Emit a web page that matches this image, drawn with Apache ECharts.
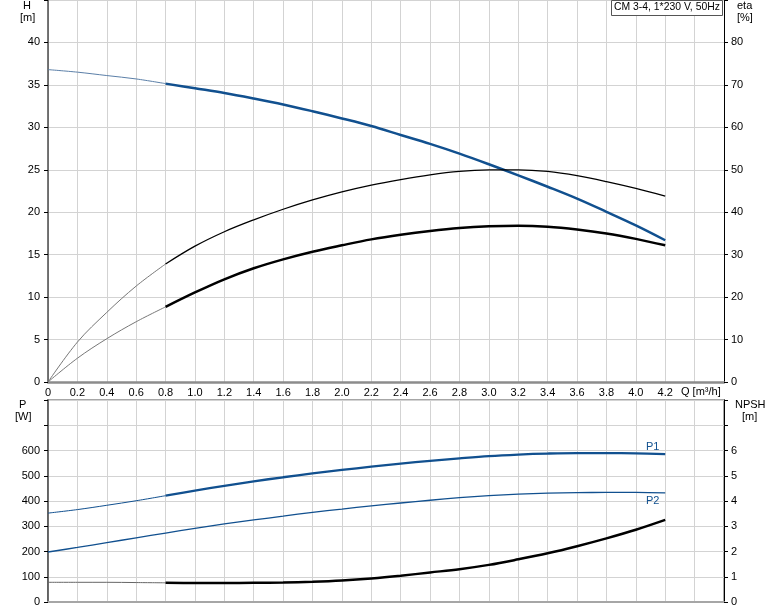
<!DOCTYPE html>
<html>
<head>
<meta charset="utf-8">
<script src="https://cdn.jsdelivr.net/npm/echarts@6/dist/echarts.min.js"></script>
<style>
html,body{margin:0;padding:0;background:#fff;}
#chart{width:774px;height:611px;}
</style>
</head>
<body>
<div id="chart"></div>
<script>
// ---- data ----
var qValues = [0,0.2,0.4,0.6,0.8,1.0,1.2,1.4,1.6,1.8,2.0,2.2,2.4,2.6,2.8,3.0,3.2,3.4,3.6,3.8,4.0,4.2];
var headH = [36.8,36.5,36.1,35.7,35.15,34.6,34.05,33.4,32.7,31.9,31.05,30.15,29.1,28.05,26.9,25.65,24.35,23.0,21.6,20.05,18.45,16.7];
var etaUpper = [0,9.4,16.4,22.6,27.8,32.0,35.4,38.2,40.7,42.9,44.8,46.4,47.7,48.8,49.6,49.96,50.0,49.6,48.6,47.2,45.6,43.8];
var etaLower = [0,5.6,10.2,14.2,17.7,21.1,24.2,26.8,28.9,30.7,32.2,33.6,34.7,35.6,36.3,36.7,36.84,36.6,35.94,35.0,33.72,32.2];
var powerP1 = [352,366,383,401,421,441,460,478,494,509,523,536,548,559,569,578,584,588,590,590,589,586];
var powerP2 = [198,216,235,254,273,292,309,325,340,355,368,381,392,403,413,421,427,431,433,434,434,432];
var npsh = [0.78,0.78,0.78,0.77,0.76,0.75,0.75,0.76,0.77,0.80,0.85,0.93,1.04,1.17,1.30,1.47,1.69,1.93,2.21,2.52,2.86,3.25];
var qTickLabels = ['0','0.2','0.4','0.6','0.8','1.0','1.2','1.4','1.6','1.8','2.0','2.2','2.4','2.6','2.8','3.0','3.2','3.4','3.6','3.8','4.0','4.2'];
var hTickLabels = ['0','5','10','15','20','25','30','35','40'];
var etaTickLabels = ['0','10','20','30','40','50','60','70','80'];
var pTickLabels = ['0','100','200','300','400','500','600'];
var npshTickLabels = ['0','1','2','3','4','5','6'];
var titleText = 'CM 3-4, 1*230 V, 50Hz';
var splitIndex = 4; // Q = 0.8, start of the bold (operating) range

function pairs(vals, from, to) {
  var out = [];
  for (var i = from; i <= to; i++) out.push([qValues[i], vals[i]]);
  return out;
}
var last = qValues.length - 1;
var BLUE = '#11508f';
var FONT = 'Liberation Sans, Arial, sans-serif';

function lineSeries(vals, xi, yi, from, to, color, width, opacity) {
  return {
    type: 'line', xAxisIndex: xi, yAxisIndex: yi,
    data: pairs(vals, from, to), smooth: 0.35, symbol: 'none',
    lineStyle: {color: color, width: width, opacity: opacity == null ? 1 : opacity},
    silent: true, z: 5
  };
}

function labelFrom(list, dec) {
  return function (v) {
    var s = (dec && Math.abs(v) > 1e-9) ? v.toFixed(dec) : String(Math.round(v));
    return list.indexOf(s) >= 0 ? s : '';
  };
}

var chart = echarts.init(document.getElementById('chart'), null, {renderer: 'canvas'});
var axisLabelBase = {color: '#000', fontSize: 11, fontFamily: FONT};
var splitLineStyle = {show: true, lineStyle: {color: '#d3d3d3', width: 1}};

chart.setOption({
  animation: false,
  backgroundColor: '#fff',
  grid: [
    {left: 48, top: 0, width: 676, height: 382, show: false},
    {left: 48, top: 400, width: 676, height: 202, show: true, borderColor: '#a6a6a6', borderWidth: 2, backgroundColor: 'transparent'}
  ],
  xAxis: [
    {type: 'value', gridIndex: 0, min: 0, max: 4.6, interval: 0.2,
     axisLine: {show: true, onZero: false, lineStyle: {color: '#8c8c8c', width: 2.5}},
     axisTick: {show: false},
     axisLabel: Object.assign({}, axisLabelBase, {margin: 5, showMinLabel: true, formatter: labelFrom(qTickLabels, 1)}),
     splitLine: splitLineStyle},
    {type: 'value', gridIndex: 1, min: 0, max: 4.6, interval: 0.2,
     axisLine: {show: true, onZero: false, lineStyle: {color: '#a6a6a6', width: 2}},
     axisTick: {show: false}, axisLabel: {show: false},
     splitLine: splitLineStyle}
  ],
  yAxis: [
    {type: 'value', gridIndex: 0, min: 0, max: 45, interval: 5, position: 'left',
     axisLine: {show: true, lineStyle: {color: '#4a4a4a', width: 1.5}},
     axisTick: {show: true, length: 4, lineStyle: {color: '#000'}},
     axisLabel: Object.assign({}, axisLabelBase, {margin: 8, formatter: labelFrom(hTickLabels)}),
     splitLine: splitLineStyle},
    {type: 'value', gridIndex: 0, min: 0, max: 90, interval: 10, position: 'right',
     axisLine: {show: true, lineStyle: {color: '#000', width: 1}},
     axisTick: {show: true, length: 4, lineStyle: {color: '#000'}},
     axisLabel: Object.assign({}, axisLabelBase, {margin: 7, formatter: labelFrom(etaTickLabels)}),
     splitLine: {show: false}},
    {type: 'value', gridIndex: 1, min: 0, max: 800, interval: 100, position: 'left',
     axisLine: {show: true, lineStyle: {color: '#4a4a4a', width: 1.5}},
     axisTick: {show: true, length: 4, lineStyle: {color: '#000'}},
     axisLabel: Object.assign({}, axisLabelBase, {margin: 8, formatter: labelFrom(pTickLabels)}),
     splitLine: splitLineStyle},
    {type: 'value', gridIndex: 1, min: 0, max: 8, interval: 1, position: 'right',
     axisLine: {show: true, lineStyle: {color: '#000', width: 1}},
     axisTick: {show: true, length: 4, lineStyle: {color: '#000'}},
     axisLabel: Object.assign({}, axisLabelBase, {margin: 7, formatter: labelFrom(npshTickLabels)}),
     splitLine: {show: false}}
  ],
  series: [
    // head
    lineSeries(headH, 0, 0, 0, splitIndex, '#5b7fa8', 1),
    lineSeries(headH, 0, 0, splitIndex, last, BLUE, 2.5),
    // efficiencies
    lineSeries(etaUpper, 0, 1, 0, splitIndex, '#777', 1),
    lineSeries(etaUpper, 0, 1, splitIndex, last, '#000', 1.3),
    lineSeries(etaLower, 0, 1, 0, splitIndex, '#777', 1),
    lineSeries(etaLower, 0, 1, splitIndex, last, '#000', 2.5),
    // power
    lineSeries(powerP1, 1, 2, 0, splitIndex, BLUE, 1),
    lineSeries(powerP1, 1, 2, splitIndex, last, BLUE, 2.3),
    lineSeries(powerP2, 1, 2, 0, last, BLUE, 1.3),
    // npsh
    lineSeries(npsh, 1, 3, 0, splitIndex, '#666', 1),
    lineSeries(npsh, 1, 3, splitIndex, last, '#000', 2.5)
  ],
  graphic: [
    {type: 'text', left: 23, top: 0, style: {text: 'H', font: '11px ' + FONT, fill: '#000'}},
    {type: 'text', left: 20, top: 12, style: {text: '[m]', font: '11px ' + FONT, fill: '#000'}},
    {type: 'text', left: 737, top: 0, style: {text: 'eta', font: '11px ' + FONT, fill: '#000'}},
    {type: 'text', left: 737, top: 12, style: {text: '[%]', font: '11px ' + FONT, fill: '#000'}},
    {type: 'text', left: 19, top: 399, style: {text: 'P', font: '11px ' + FONT, fill: '#000'}},
    {type: 'text', left: 15, top: 411, style: {text: '[W]', font: '11px ' + FONT, fill: '#000'}},
    {type: 'text', left: 735, top: 399, style: {text: 'NPSH', font: '11px ' + FONT, fill: '#000'}},
    {type: 'text', left: 742, top: 411, style: {text: '[m]', font: '11px ' + FONT, fill: '#000'}},
    {type: 'text', left: 681, top: 386, style: {text: 'Q [m³/h]', font: '11px ' + FONT, fill: '#000'}},
    {type: 'text', left: 646, top: 441, z: 10, style: {text: 'P1', font: '11px ' + FONT, fill: BLUE}},
    {type: 'text', left: 646, top: 495, z: 10, style: {text: 'P2', font: '11px ' + FONT, fill: BLUE}},
    {type: 'rect', left: 611, top: 0, z: 20, shape: {width: 111, height: 15},
     style: {fill: '#fff', stroke: '#555', lineWidth: 1}},
    {type: 'text', left: 614, top: 2, z: 21, style: {text: titleText, font: '10.4px ' + FONT, fill: '#000'}}
  ]
});
</script>
</body>
</html>
